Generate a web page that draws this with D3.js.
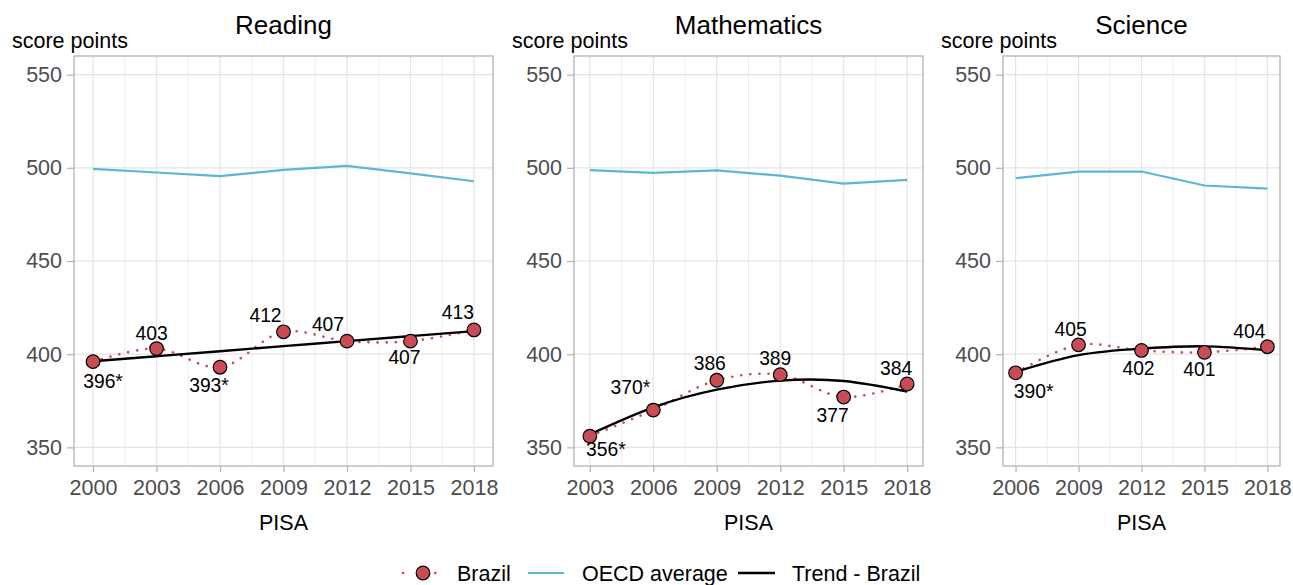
<!DOCTYPE html>
<html>
<head>
<meta charset="utf-8">
<script src="https://cdn.jsdelivr.net/npm/d3@7"></script>
<style>
  body { margin: 0; background: #fff; }
  text { font-family: "Liberation Sans", Arial, sans-serif; }
</style>
</head>
<body>
<div id="chart-area"></div>
<script>
// data
var readingYears = [2000, 2003, 2006, 2009, 2012, 2015, 2018];
var readingBrazil = [396, 403, 393, 412, 407, 407, 413];
var readingLabels = ["396*", "403", "393*", "412", "407", "407", "413"];
var readingOECD = [499.4, 497.5, 495.5, 498.9, 501, 497, 492.8];
var readingTrend = [396.2, 398.9, 401.6, 404.3, 407.0, 409.7, 412.4];

var mathYears = [2003, 2006, 2009, 2012, 2015, 2018];
var mathBrazil = [356, 370, 386, 389, 377, 384];
var mathLabels = ["356*", "370*", "386", "389", "377", "384"];
var mathOECD = [498.8, 497.3, 498.6, 495.8, 491.5, 493.5];
var mathTrend = [357, 371.5, 381, 385.8, 385.6, 380];

var scienceYears = [2006, 2009, 2012, 2015, 2018];
var scienceBrazil = [390, 405, 402, 401, 404];
var scienceLabels = ["390*", "405", "402", "401", "404"];
var scienceOECD = [494.4, 498, 498, 490.5, 488.8];
var scienceTrend = [390.5, 399.5, 403.0, 404.2, 402.1];

var yTicks = [350, 400, 450, 500, 550];

// label placement (px offset from the point), like ggrepel put them
var readingNudge = [[10, 19], [-5, -16], [-11, 18], [-18, -17], [-19, -17], [-6, 16], [-16, -18]];
var mathNudge = [[16, 13], [-23, -23], [-7, -17], [-5, -17], [-11, 18], [-11, -16]];
var scienceNudge = [[18, 18], [-8, -16], [-3, 18], [-5, 17], [-18, -16]];

var W = 1293, H = 585;
var plotTop = 56, plotBottom = 466;

var colBrazil = "#C84B55", colOECD = "#5DB5D8", colGrid = "#E4E4E4", colBorder = "#B3B3B3";

var svg = d3.select("#chart-area")
  .append("svg")
  .attr("width", W)
  .attr("height", H);

var panels = [
  {title: "Reading", left: 74, right: 493, years: readingYears, brazil: readingBrazil,
   labels: readingLabels, oecd: readingOECD, trend: readingTrend, nudge: readingNudge},
  {title: "Mathematics", left: 574, right: 923, years: mathYears, brazil: mathBrazil,
   labels: mathLabels, oecd: mathOECD, trend: mathTrend, nudge: mathNudge},
  {title: "Science", left: 1003, right: 1280, years: scienceYears, brazil: scienceBrazil,
   labels: scienceLabels, oecd: scienceOECD, trend: scienceTrend, nudge: scienceNudge}
];

panels.forEach(drawPanel);

function drawPanel(p) {
  var y0 = p.years[0], y1 = p.years[p.years.length - 1];
  var pad = (y1 - y0) * 0.05;
  var x = d3.scaleLinear().domain([y0 - pad, y1 + pad]).range([p.left, p.right]);
  var y = d3.scaleLinear().domain([340, 560]).range([plotBottom, plotTop]);

  var g = svg.append("g");

  // minor vertical grid
  var minor = [];
  for (var i = 0; i < p.years.length - 1; i++) minor.push((p.years[i] + p.years[i + 1]) / 2);
  g.selectAll(".minor").data(minor).enter().append("line")
    .attr("x1", function(d) { return x(d); }).attr("x2", function(d) { return x(d); })
    .attr("y1", plotTop).attr("y2", plotBottom)
    .attr("stroke", "#EDEDED").attr("stroke-width", 1);
  g.selectAll(".vmaj").data(p.years).enter().append("line")
    .attr("x1", function(d) { return x(d); }).attr("x2", function(d) { return x(d); })
    .attr("y1", plotTop).attr("y2", plotBottom)
    .attr("stroke", colGrid).attr("stroke-width", 1.2);
  g.selectAll(".hmaj").data(yTicks).enter().append("line")
    .attr("x1", p.left).attr("x2", p.right)
    .attr("y1", function(d) { return y(d); }).attr("y2", function(d) { return y(d); })
    .attr("stroke", colGrid).attr("stroke-width", 1.2);

  // axes
  var ya = g.append("g").attr("transform", "translate(" + p.left + ",0)")
    .call(d3.axisLeft(y).tickValues(yTicks).tickSize(7).tickPadding(5));
  var xa = g.append("g").attr("transform", "translate(0," + plotBottom + ")")
    .call(d3.axisBottom(x).tickValues(p.years).tickFormat(d3.format("d")).tickSize(6).tickPadding(5));
  [ya, xa].forEach(function(a) {
    a.attr("font-size", null).attr("font-family", null);
    a.select(".domain").remove();
    a.selectAll(".tick line").attr("stroke", colBorder).attr("stroke-width", 1.2);
    a.selectAll(".tick text").attr("fill", "#4D4D4D").style("font-size", "21.5px");
  });
  xa.selectAll(".tick text").attr("dy", "0.85em");

  // border
  g.append("rect")
    .attr("x", p.left).attr("y", plotTop)
    .attr("width", p.right - p.left).attr("height", plotBottom - plotTop)
    .attr("fill", "none").attr("stroke", colBorder).attr("stroke-width", 1.3);

  // titles
  g.append("text").attr("x", (p.left + p.right) / 2).attr("y", 34)
    .attr("text-anchor", "middle").style("font-size", "26px").text(p.title);
  g.append("text").attr("x", p.left - 62).attr("y", 48)
    .style("font-size", "21.5px").text("score points");
  g.append("text").attr("x", (p.left + p.right) / 2).attr("y", 530)
    .attr("text-anchor", "middle").style("font-size", "21.5px").text("PISA");

  var rows = p.years.map(function(yr, i) {
    return {year: yr, brazil: p.brazil[i], oecd: p.oecd[i], trend: p.trend[i],
            label: p.labels[i], nudge: p.nudge[i]};
  });

  // OECD
  g.append("path").datum(rows)
    .attr("fill", "none").attr("stroke", colOECD).attr("stroke-width", 2.2)
    .attr("d", d3.line().x(function(d) { return x(d.year); }).y(function(d) { return y(d.oecd); }));

  // Brazil dotted spline
  g.append("path").datum(rows)
    .attr("fill", "none").attr("stroke", colBrazil).attr("stroke-width", 2.6)
    .attr("stroke-linecap", "round").attr("stroke-dasharray", "0.1 9")
    .attr("d", d3.line().curve(d3.curveCatmullRom.alpha(0.5))
      .x(function(d) { return x(d.year); }).y(function(d) { return y(d.brazil); }));

  // trend
  g.append("path").datum(rows)
    .attr("fill", "none").attr("stroke", "#000").attr("stroke-width", 2.4)
    .attr("d", d3.line().curve(d3.curveNatural)
      .x(function(d) { return x(d.year); }).y(function(d) { return y(d.trend); }));

  // points
  g.selectAll(".pt").data(rows).enter().append("circle")
    .attr("cx", function(d) { return x(d.year); })
    .attr("cy", function(d) { return y(d.brazil); })
    .attr("r", 6.8)
    .attr("fill", colBrazil).attr("stroke", "#000").attr("stroke-width", 1.2);

  // labels
  g.selectAll(".lab").data(rows).enter().append("text")
    .attr("x", function(d) { return x(d.year) + d.nudge[0]; })
    .attr("y", function(d) { return y(d.brazil) + d.nudge[1]; })
    .attr("dy", "0.36em")
    .attr("text-anchor", "middle")
    .style("font-size", "19.3px")
    .text(function(d) { return d.label; });
}

// legend
var leg = svg.append("g");
var ly = 573;
leg.append("line").attr("x1", 403).attr("x2", 443).attr("y1", ly).attr("y2", ly)
  .attr("stroke", colBrazil).attr("stroke-width", 2.6).attr("stroke-linecap", "round")
  .attr("stroke-dasharray", "0.1 16");
leg.append("circle").attr("cx", 423).attr("cy", ly).attr("r", 6.8)
  .attr("fill", colBrazil).attr("stroke", "#000").attr("stroke-width", 1.2);
leg.append("text").attr("x", 457).attr("y", ly).attr("dy", "0.36em")
  .style("font-size", "21.5px").text("Brazil");
leg.append("line").attr("x1", 528).attr("x2", 564).attr("y1", ly).attr("y2", ly)
  .attr("stroke", colOECD).attr("stroke-width", 2.2);
leg.append("text").attr("x", 582).attr("y", ly).attr("dy", "0.36em")
  .style("font-size", "21.5px").text("OECD average");
leg.append("line").attr("x1", 738).attr("x2", 775).attr("y1", ly).attr("y2", ly)
  .attr("stroke", "#000").attr("stroke-width", 2.4);
leg.append("text").attr("x", 792).attr("y", ly).attr("dy", "0.36em")
  .style("font-size", "21.5px").text("Trend - Brazil");
</script>
</body>
</html>
